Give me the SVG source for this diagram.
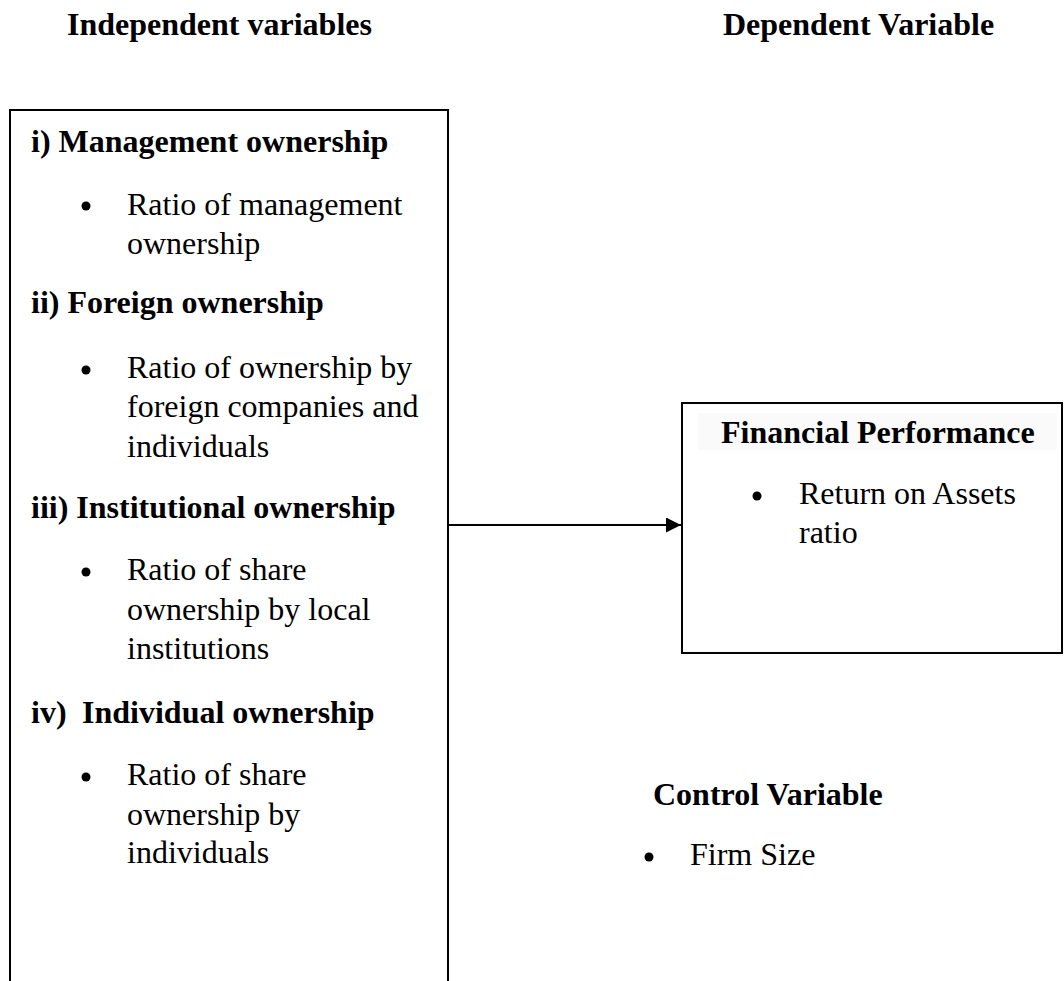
<svg xmlns="http://www.w3.org/2000/svg" width="1064" height="981" viewBox="0 0 1064 981">
  <style>
    text { font-family: "Liberation Serif", "Times New Roman", serif; font-size: 32px; fill: #000; }
    .b { font-weight: bold; }
    .box { fill: none; stroke: #000; stroke-width: 2; }
    .dot { fill: #000; }
    .edge { stroke: #000; stroke-width: 2; fill: none; }
  </style>
  <defs>
    <marker id="arrow" markerUnits="userSpaceOnUse" markerWidth="16" markerHeight="16" refX="15" refY="7.5" orient="auto">
      <path d="M0,0 L15,7.5 L0,15 Z" fill="#000"/>
    </marker>
  </defs>

  <rect width="1064" height="981" fill="#fff"/>

  <!-- column headings -->
  <g id="headings">
    <text class="b" x="67" y="35">Independent variables</text>
    <text class="b" x="723" y="35">Dependent Variable</text>
  </g>

  <!-- independent variables box -->
  <g id="independent">
    <rect class="box" x="10" y="110" width="438" height="900"/>
    <text class="b" x="31" y="152">i) Management ownership</text>
    <circle class="dot" cx="86" cy="206" r="4.5"/>
    <text x="127" y="215">Ratio of management</text>
    <text x="127" y="254">ownership</text>

    <text class="b" x="31" y="313">ii) Foreign ownership</text>
    <circle class="dot" cx="86" cy="370" r="4.5"/>
    <text x="127" y="378">Ratio of ownership by</text>
    <text x="127" y="417">foreign companies and</text>
    <text x="127" y="457">individuals</text>

    <text class="b" x="31" y="518">iii) Institutional ownership</text>
    <circle class="dot" cx="86" cy="572" r="4.5"/>
    <text x="127" y="580">Ratio of share</text>
    <text x="127" y="620">ownership by local</text>
    <text x="127" y="659">institutions</text>

    <text class="b" x="31" y="723">iv)</text>
    <text class="b" x="82" y="723">Individual ownership</text>
    <circle class="dot" cx="86" cy="777" r="4.5"/>
    <text x="127" y="785">Ratio of share</text>
    <text x="127" y="825">ownership by</text>
    <text x="127" y="863">individuals</text>
  </g>

  <!-- dependent variable box -->
  <g id="dependent">
    <rect x="698" y="413" width="359" height="37" fill="#fafafa"/>
    <rect class="box" x="682" y="403" width="380" height="250"/>
    <text class="b" x="721" y="443">Financial Performance</text>
    <circle class="dot" cx="757" cy="496" r="4.5"/>
    <text x="799" y="504">Return on Assets</text>
    <text x="799" y="543">ratio</text>
  </g>

  <!-- control variable -->
  <g id="control">
    <text class="b" x="653" y="805">Control Variable</text>
    <circle class="dot" cx="649" cy="857" r="4.5"/>
    <text x="690" y="865">Firm Size</text>
  </g>

  <!-- connectors -->
  <g id="connectors">
    <line class="edge" x1="449" y1="525" x2="681" y2="525" marker-end="url(#arrow)"/>
  </g>
</svg>
